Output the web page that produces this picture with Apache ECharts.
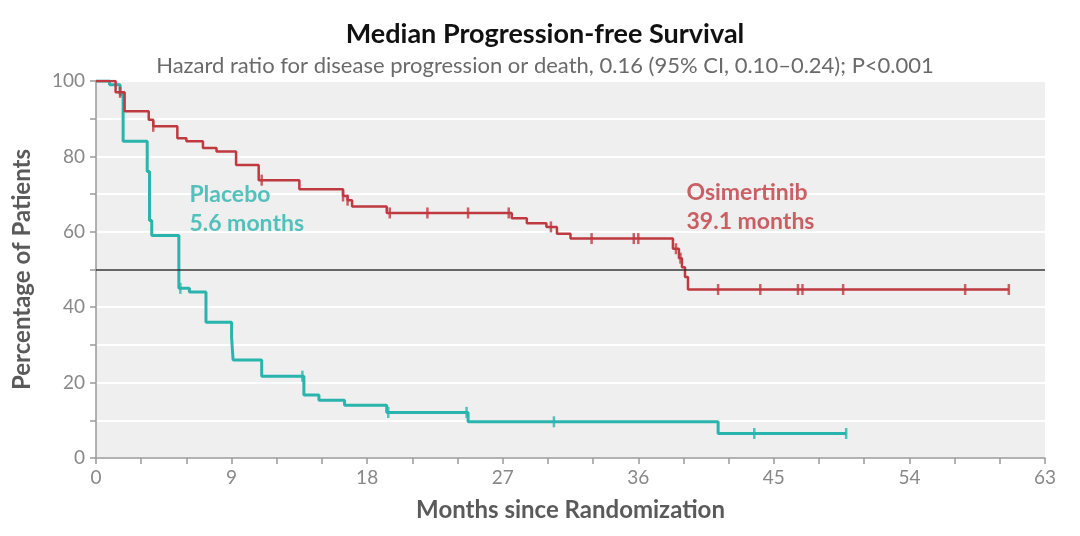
<!DOCTYPE html>
<html><head><meta charset="utf-8">
<script src="https://cdn.jsdelivr.net/npm/echarts@6/dist/echarts.min.js"></script>
<style>html,body{margin:0;padding:0;background:#fff}#c{width:1080px;height:536px}</style>
</head><body><div id="c"></div>
<script>
// Osimertinib KM curve (months, % progression-free)
const osiTimes = [0, 1.3, 1.9, 3.5, 3.8, 5.4, 6.0, 7.1, 8.0, 9.3, 10.8, 13.5, 16.4, 16.7, 17.0, 19.3, 27.6, 28.6, 29.9, 30.6, 31.5, 38.3, 38.7, 38.9, 39.1, 39.3, 60.6];
const osiSurv  = [100, 97, 92, 89.7, 88, 84.8, 84, 82.2, 81.3, 77.7, 73.7, 71.3, 69.5, 68.4, 66.7, 65, 63.6, 62.3, 61.3, 59.5, 58.2, 55.5, 53, 50.6, 48, 44.7, 44.7];
const osiCensor = [1.6, 3.8, 11.0, 16.4, 16.7, 19.5, 22.0, 24.7, 27.4, 30.2, 32.9, 35.7, 36.0, 38.5, 38.8, 41.3, 44.1, 46.6, 46.9, 49.6, 57.7, 60.6];
// Placebo KM curve
const plaTimes = [0, 0.9, 1.6, 1.8, 3.4, 3.55, 3.7, 5.5, 6.2, 7.3, 9.0, 9.1, 11.0, 13.8, 14.8, 16.5, 19.3, 24.7, 41.3, 49.8];
const plaSurv  = [100, 99, 96.5, 84, 76, 63, 59, 45, 44, 36, 32, 26, 21.7, 16.7, 15.3, 14, 12.1, 9.6, 6.5, 6.5];
const plaCensor = [5.6, 13.7, 19.4, 24.6, 30.4, 43.7, 49.8];

const xLabelEvery = 9;
const yLabelEvery = 20;
const titleText = 'Median Progression-free Survival';
const subText = 'Hazard ratio for disease progression or death, 0.16 (95% CI, 0.10\u20130.24); P<0.001';
const RED = '#bf3a40', TEAL = '#2ab4ae';

function pairs(t, s) { return t.map((v, i) => [v, s[i]]); }
function survAt(t, s, x) { let v = s[0]; for (let i = 0; i < t.length; i++) { if (t[i] <= x) v = s[i]; } return v; }
function censorPts(ct, t, s) { return ct.map(x => [x, survAt(t, s, x)]); }

const FONT = 'Lato';
const chart = echarts.init(document.getElementById('c'), null, {renderer: 'canvas'});
chart.setOption({
  animation: false,
  backgroundColor: '#fff',
  title: {
    text: titleText, subtext: subText,
    left: 540, top: 16, textAlign: 'center', itemGap: 7,
    textStyle: {fontFamily: FONT, fontSize: 27, fontWeight: 'bold', color: '#111'},
    subtextStyle: {fontFamily: FONT, fontSize: 22, color: '#6a6a6a'}
  },
  grid: {left: 96, right: 35, top: 81, bottom: 78, show: true, backgroundColor: '#efefef', borderWidth: 0},
  xAxis: {
    type: 'value', min: 0, max: 63, interval: 3,
    name: 'Months since Randomization', nameLocation: 'middle', nameGap: 40,
    nameTextStyle: {fontFamily: FONT, fontSize: 24, fontWeight: 'bold', color: '#5a5a5a'},
    axisLine: {lineStyle: {color: '#999', width: 1.5}},
    axisTick: {show: true, length: 6, lineStyle: {color: '#999', width: 1.5}},
    axisLabel: {margin: 10, fontFamily: FONT, fontSize: 19, color: '#888',
      formatter: v => (v % xLabelEvery === 0 ? String(v) : '')},
    splitLine: {show: false}
  },
  yAxis: {
    type: 'value', min: 0, max: 100, interval: 10,
    name: 'Percentage of Patients', nameLocation: 'middle', nameGap: 62,
    nameTextStyle: {fontFamily: FONT, fontSize: 24, fontWeight: 'bold', color: '#5a5a5a'},
    axisLine: {show: true, lineStyle: {color: '#999', width: 1.5}},
    axisTick: {show: true, length: 6, lineStyle: {color: '#999', width: 1.5}},
    axisLabel: {margin: 11, fontFamily: FONT, fontSize: 19, color: '#888',
      formatter: v => (v % yLabelEvery === 0 ? String(v) : '')},
    splitLine: {show: true, lineStyle: {color: '#ffffff', width: 2}}
  },
  series: [
    {
      type: 'line', name: 'Placebo', data: pairs(plaTimes, plaSurv), step: 'end',
      showSymbol: false, lineStyle: {color: TEAL, width: 3}, z: 3,
      markLine: {silent: true, symbol: 'none', label: {show: false},
        lineStyle: {color: '#333', width: 1.5, type: 'solid'}, data: [{yAxis: 50}]}
    },
    {
      type: 'line', name: 'Osimertinib', data: pairs(osiTimes, osiSurv), step: 'end',
      showSymbol: false, lineStyle: {color: RED, width: 2.5}, z: 4
    },
    {
      type: 'scatter', data: censorPts(plaCensor, plaTimes, plaSurv), symbol: 'rect',
      symbolSize: [2.5, 11], itemStyle: {color: TEAL}, z: 5
    },
    {
      type: 'scatter', data: censorPts(osiCensor, osiTimes, osiSurv), symbol: 'rect',
      symbolSize: [2.5, 11], itemStyle: {color: RED}, z: 6
    },
    {
      type: 'scatter', symbolSize: 0, data: [[6.2, 66]], silent: true,
      label: {show: true, position: 'right', distance: 0, formatter: 'Placebo\n5.6 months',
        fontFamily: FONT, fontSize: 23, fontWeight: 'bold', lineHeight: 29, color: TEAL, align: 'left'}
    },
    {
      type: 'scatter', symbolSize: 0, data: [[39.2, 66.5]], silent: true,
      label: {show: true, position: 'right', distance: 0, formatter: 'Osimertinib\n39.1 months',
        fontFamily: FONT, fontSize: 23, fontWeight: 'bold', lineHeight: 29, color: RED, align: 'left'}
    }
  ]
});
</script>
</body></html>
